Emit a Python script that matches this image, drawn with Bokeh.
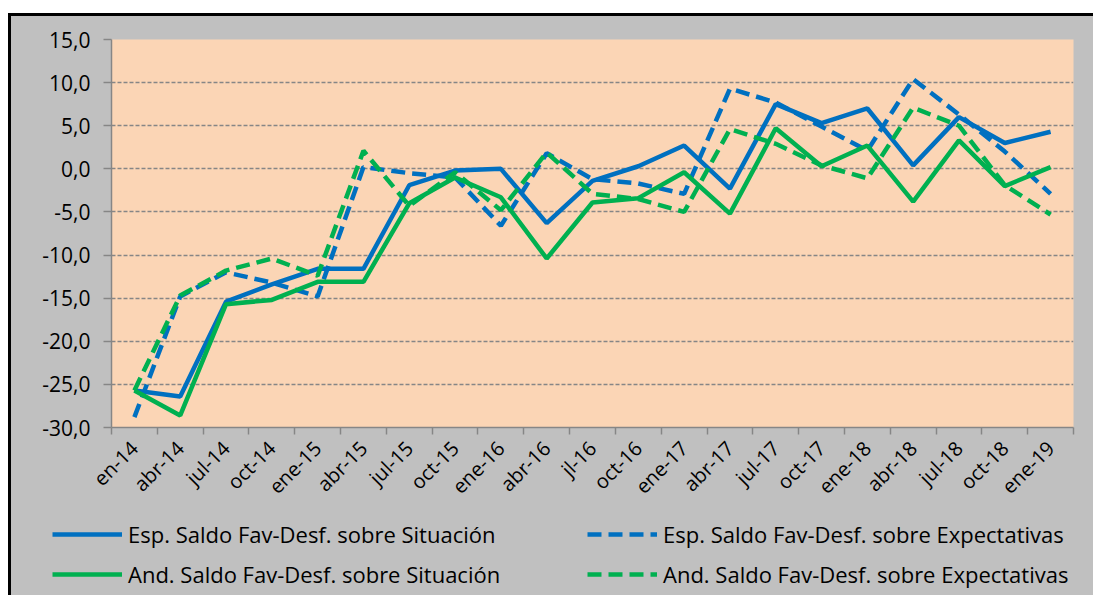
import math
from bokeh.plotting import figure
from bokeh.models import Range1d, FixedTicker, Legend, LegendItem, Spacer
from bokeh.layouts import column, row
from bokeh.embed import file_html
from bokeh.resources import INLINE

categories = ["en-14", "abr-14", "jul-14", "oct-14", "ene-15", "abr-15", "jul-15",
              "oct-15", "ene-16", "abr-16", "jl-16", "oct-16", "ene-17", "abr-17",
              "jul-17", "oct-17", "ene-18", "abr-18", "jul-18", "oct-18", "ene-19"]

esp_situacion = [-25.7, -26.4, -15.4, -13.4, -11.6, -11.6, -1.9, -0.2, 0.0, -6.3, -1.4,
                 0.3, 2.7, -2.3, 7.5, 5.3, 7.0, 0.4, 6.0, 3.0, 4.3]
esp_expectativas = [-28.8, -14.8, -12.0, -13.2, -14.8, 0.2, -0.5, -1.0, -6.6, 1.8, -1.2,
                    -1.7, -2.9, 9.3, 7.7, 4.9, 2.1, 10.4, 6.3, 2.0, -2.9]
and_situacion = [-25.7, -28.6, -15.7, -15.2, -13.1, -13.1, -4.0, -1.0, -3.3, -10.4, -3.9,
                 -3.4, -0.4, -5.2, 4.7, 0.3, 2.7, -3.8, 3.3, -2.0, 0.2]
and_expectativas = [-25.7, -14.7, -11.8, -10.4, -12.4, 2.1, -4.3, -0.4, -4.8, 1.9, -2.9,
                    -3.5, -5.0, 4.6, 2.9, 0.4, -1.1, 7.1, 5.0, -1.9, -5.3]

series_labels = ["Esp. Saldo Fav-Desf. sobre Situación",
                 "Esp. Saldo Fav-Desf. sobre Expectativas",
                 "And. Saldo Fav-Desf. sobre Situación",
                 "And. Saldo Fav-Desf. sobre Expectativas"]

y_ticks = [-30, -25, -20, -15, -10, -5, 0, 5, 10, 15]
y_tick_labels = ["-30,0", "-25,0", "-20,0", "-15,0", "-10,0", "-5,0", "0,0", "5,0", "10,0", "15,0"]

BLUE = "#0070C0"
GREEN = "#00B050"
GRAY = "#868686"
PANEL = "#C0C0C0"
FONT = "Open Sans"
DASH = "14 7"

n = len(categories)
x = [i + 0.5 for i in range(n)]

p = figure(width=1082, height=495, output_backend="svg", toolbar_location=None,
           x_range=Range1d(0, n), y_range=Range1d(-30, 15),
           min_border_left=100, min_border_right=20, min_border_top=23,
           min_border_bottom=84)
p.frame_align = False

p.background_fill_color = "#FBD5B5"
p.border_fill_color = PANEL
p.outline_line_color = None

p.xgrid.visible = False
p.ygrid.ticker = FixedTicker(ticks=y_ticks)
p.ygrid.grid_line_color = GRAY
p.ygrid.grid_line_width = 1.5
p.ygrid.grid_line_dash = "4 2"

p.yaxis.ticker = FixedTicker(ticks=y_ticks)
p.yaxis.major_label_overrides = {t: l for t, l in zip(y_ticks, y_tick_labels)}
p.yaxis.axis_line_color = GRAY
p.yaxis.axis_line_width = 1.5
p.yaxis.major_tick_line_color = GRAY
p.yaxis.major_tick_line_width = 1.5
p.yaxis.major_tick_out = 8
p.yaxis.major_tick_in = 0
p.yaxis.minor_tick_line_color = None
p.yaxis.major_label_standoff = 13
p.yaxis.major_label_text_font = FONT
p.yaxis.major_label_text_font_size = "21px"
p.yaxis.major_label_text_color = "black"

p.xaxis.ticker = FixedTicker(ticks=x, minor_ticks=list(range(n + 1)))
p.xaxis.major_label_overrides = {xi: c for xi, c in zip(x, categories)}
p.xaxis.major_label_orientation = math.pi / 4
p.xaxis.axis_line_color = GRAY
p.xaxis.axis_line_width = 1.5
p.xaxis.major_tick_line_color = None
p.xaxis.major_tick_out = 0
p.xaxis.minor_tick_line_color = GRAY
p.xaxis.minor_tick_line_width = 1.5
p.xaxis.minor_tick_out = 7
p.xaxis.minor_tick_in = 0
p.xaxis.major_label_standoff = 10
p.xaxis.major_label_text_font = FONT
p.xaxis.major_label_text_font_size = "20px"
p.xaxis.major_label_text_color = "black"

styles = [dict(line_color=BLUE), dict(line_color=BLUE, line_dash=DASH),
          dict(line_color=GREEN), dict(line_color=GREEN, line_dash=DASH)]
series = [esp_situacion, esp_expectativas, and_situacion, and_expectativas]
for ys, st in zip(series, styles):
    p.line(x, ys, line_width=4.5, **st)

# legend panel: separate figure whose frame spans its full width;
# its y range lies above every value, so the series lines there stay out of view
lg = figure(width=1082, height=84, output_backend="svg", toolbar_location=None,
            x_axis_type=None, y_axis_type=None, min_border=0,
            x_range=Range1d(0, n), y_range=Range1d(100, 101))
lg.frame_align = False
lg.background_fill_color = PANEL
lg.border_fill_color = PANEL
lg.outline_line_color = None
lg.grid.visible = False
items = []
for lab, ys, st in zip(series_labels, series, styles):
    r = lg.line(x, ys, line_width=4.5, **st)
    items.append(LegendItem(label=lab, renderers=[r]))
legend = Legend(items=items, location=(41, 6), orientation="horizontal", ncols=2,
                glyph_width=70, glyph_height=20, label_height=20,
                label_standoff=6, spacing=10, label_width=449,
                padding=0, margin=0, border_line_color=None,
                background_fill_alpha=0, label_text_font=FONT,
                label_text_font_size="22px", label_text_color="black")
lg.add_layout(legend, "center")

top_white = Spacer(width=1093, height=13)
left_white = Spacer(width=8, height=582)
top_black = Spacer(width=1082, height=3, styles={"background-color": "black"})
left_black = Spacer(width=3, height=582, styles={"background-color": "black"})
inner = column(top_black, p, lg, styles={"background-color": PANEL})
layout = column(top_white, row(left_white, left_black, inner))

open("out.html", "w").write(file_html(layout, INLINE))
